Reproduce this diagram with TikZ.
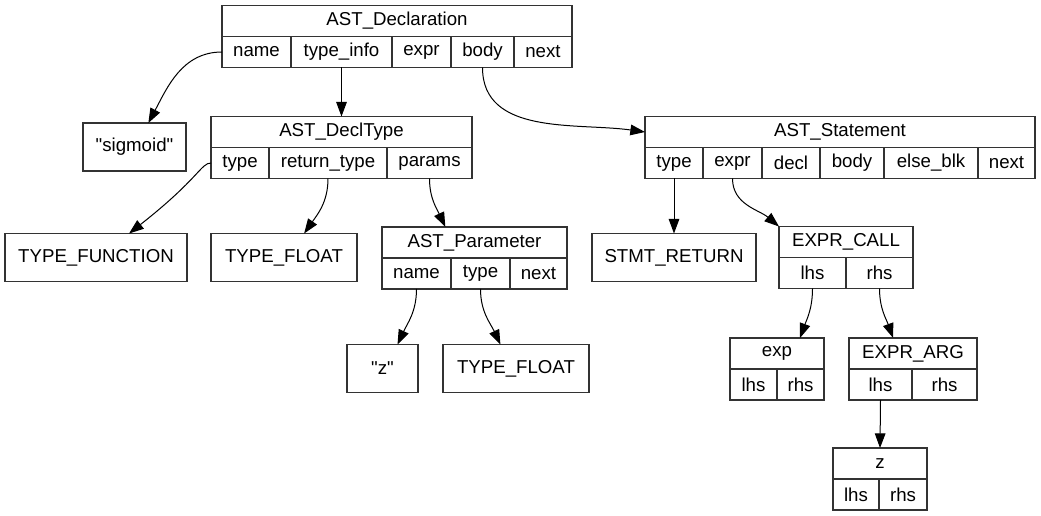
\documentclass[tikz,border=0pt]{standalone}
\usepackage{fontspec}
\setmainfont{Liberation Sans}[Ligatures=TeXOff]
\usetikzlibrary{arrows.meta, positioning}
\tikzstyle{field} = [
    rectangle, draw=black!80, line width=0.8pt, inner sep=0pt, outer sep=0pt,
    minimum height=23.25pt, font=\fontsize{14pt}{16pt}\selectfont
]
\tikzstyle{leaf} = [field, minimum height=36pt]
\tikzstyle{edge} = [-{Triangle[length=11pt, width=8pt]}, line width=0.75pt, color=black]
\tikzset{fw/.style={minimum width=#1*0.75pt}}

\begin{document}
\begin{tikzpicture}[x=0.75pt, y=-0.75pt]
    \useasboundingbox (0,0) rectangle (1041,516);

    % AST_Declaration
    \node[field, fw=350] (dhdr) at (397,21) {AST\_Declaration};
    \node[field, fw=69, anchor=north west] (dname) at (dhdr.south west) {name};
    \node[field, fw=101, right=0pt of dname] (dinfo) {type\_info};
    \node[field, fw=59, right=0pt of dinfo] (dexpr) {expr};
    \node[field, fw=63, right=0pt of dexpr] (dbody) {body};
    \node[field, fw=58, right=0pt of dbody] (dnext) {next};

    % AST_DeclType
    \node[field, fw=261] (thdr) at (341.5,132) {AST\_DeclType};
    \node[field, fw=58, anchor=north west] (ttype) at (thdr.south west) {type};
    \node[field, fw=118, right=0pt of ttype] (tret) {return\_type};
    \node[field, fw=85, right=0pt of tret] (tparams) {params};

    % AST_Parameter
    \node[field, fw=185] (phdr) at (474.5,242.5) {AST\_Parameter};
    \node[field, fw=69, anchor=north west] (pname) at (phdr.south west) {name};
    \node[field, fw=59, right=0pt of pname] (ptype) {type};
    \node[field, fw=57, right=0pt of ptype] (pnext) {next};

    % AST_Statement
    \node[field, fw=390] (shdr) at (840,132) {AST\_Statement};
    \node[field, fw=58, anchor=north west] (stype) at (shdr.south west) {type};
    \node[field, fw=59, right=0pt of stype] (sexpr) {expr};
    \node[field, fw=58, right=0pt of sexpr] (sdecl) {decl};
    \node[field, fw=64, right=0pt of sdecl] (sbody) {body};
    \node[field, fw=94, right=0pt of sbody] (selse) {else\_blk};
    \node[field, fw=57, right=0pt of selse] (snext) {next};

    % Expressions
    \node[field, fw=134] (chdr) at (846,242) {EXPR\_CALL};
    \node[field, fw=67, anchor=north west] (clhs) at (chdr.south west) {lhs};
    \node[field, fw=67, right=0pt of clhs] (crhs) {rhs};

    \node[field, fw=94] (ehdr) at (777,353.5) {exp};
    \node[field, fw=47, anchor=north west] (elhs) at (ehdr.south west) {lhs};
    \node[field, fw=47, right=0pt of elhs] (erhs) {rhs};

    \node[field, fw=128] (ahdr) at (913,353.5) {EXPR\_ARG};
    \node[field, fw=63, anchor=north west] (alhs) at (ahdr.south west) {lhs};
    \node[field, fw=65, right=0pt of alhs] (arhs) {rhs};

    \node[field, fw=94] (zhdr) at (880,463.5) {z};
    \node[field, fw=46, anchor=north west] (zlhs) at (zhdr.south west) {lhs};
    \node[field, fw=48, right=0pt of zlhs] (zrhs) {rhs};

    % Leaves
    \node[leaf, fw=103] (sigm) at (134.5,147) {"sigmoid"};
    \node[leaf, fw=182] (tfunc) at (96,257.5) {TYPE\_FUNCTION};
    \node[leaf, fw=146] (tfloat) at (284,257.5) {TYPE\_FLOAT};
    \node[leaf, fw=71] (pz) at (382.5,368.5) {"z"};
    \node[leaf, fw=146] (pfloat) at (516,368.5) {TYPE\_FLOAT};
    \node[leaf, fw=164] (sret) at (674,257.5) {STMT\_RETURN};

    % Pointer arrows
    \draw[edge] (dname.west) to[out=180, in=62] (sigm.60);
    \draw[edge] (dinfo.south) -- (thdr.north);
    \draw[edge] (dbody.south) to[out=-90, in=172] (shdr.west);
    \draw[edge] (ttype.west) .. controls +(-10,0) and +(70,-55) .. (tfunc.36);
    \draw[edge] (tret.south) to[out=-90, in=55] (tfloat.50);
    \draw[edge] (tparams.south) to[out=-90, in=115] (phdr.152);
    \draw[edge] (pname.south) to[out=-90, in=65] (pz.58);
    \draw[edge] (ptype.south) to[out=-90, in=115] (pfloat.123);
    \draw[edge] (stype.south) -- (sret.north);
    \draw[edge] (sexpr.south) to[out=-90, in=140] (chdr.north west);
    \draw[edge] (clhs.south) to[out=-90, in=70] (ehdr.34);
    \draw[edge] (crhs.south) to[out=-90, in=110] (ahdr.142);
    \draw[edge] (alhs.south) -- (zhdr.north);

\end{tikzpicture}
\end{document}
